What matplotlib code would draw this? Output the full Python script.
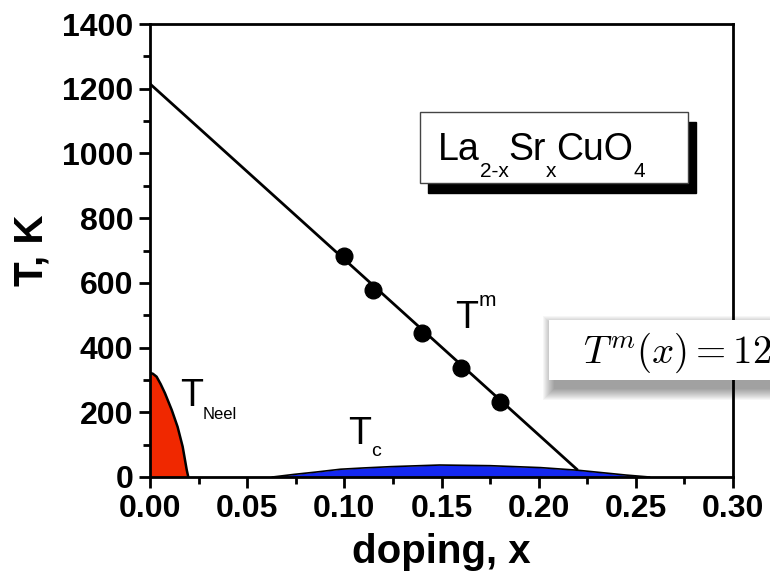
import numpy as np
import matplotlib.pyplot as plt
from matplotlib.patches import Rectangle
from matplotlib.ticker import MultipleLocator

plt.rcParams['font.family'] = ['Liberation Sans', 'DejaVu Sans']

# data
tm_x = [0.10, 0.115, 0.14, 0.16, 0.18]
tm_T = [682, 578, 445, 336, 232]
tm_fit_x = [0.0, 0.2196]
tm_fit_T = [1215, 24]

neel_x = [0.0, 0.0015, 0.0034, 0.0055, 0.0077, 0.0112, 0.0142, 0.0168, 0.0189, 0.0197]
neel_T = [322, 319, 310, 287, 259, 207, 155, 94, 22, 0]

tc_x = [0.063, 0.074, 0.085, 0.098, 0.11, 0.124, 0.149, 0.175, 0.201, 0.22, 0.235, 0.245, 0.257]
tc_T = [0, 8, 15, 24, 28, 32, 37, 35, 29, 21, 12, 6, 0]

W, H = 770, 575
fig = plt.figure(figsize=(7.7, 5.75), dpi=100)
ax = fig.add_axes([150 / W, 1 - 477 / H, 583 / W, 453 / H])

# areas
ax.fill_between(neel_x, 0, neel_T, color='#f02800', lw=0)
ax.plot(neel_x, neel_T, color='black', lw=1.8)
ax.fill_between(tc_x, 0, tc_T, color='#1428f0', lw=0)
ax.plot(tc_x, tc_T, color='black', lw=1.2)

# T^m line and points
ax.plot(tm_fit_x, tm_fit_T, color='black', lw=2)
ax.plot(tm_x, tm_T, 'o', color='black', ms=12)

ax.set_xlim(0, 0.30)
ax.set_ylim(0, 1400)
ax.xaxis.set_major_locator(MultipleLocator(0.05))
ax.xaxis.set_minor_locator(MultipleLocator(0.025))
ax.yaxis.set_major_locator(MultipleLocator(200))
ax.yaxis.set_minor_locator(MultipleLocator(100))
ax.xaxis.set_major_formatter(plt.FuncFormatter(lambda v, p: f'{v:.2f}'))
ax.tick_params(which='both', direction='out', width=2, top=False, right=False)
ax.tick_params(which='major', length=8, labelsize=23, pad=4)
ax.tick_params(which='minor', length=5)
for lab in ax.get_xticklabels() + ax.get_yticklabels():
    lab.set_fontweight('bold')
for sp in ax.spines.values():
    sp.set_linewidth(2)

ax.set_xlabel('doping, x', fontsize=29, fontweight='bold', labelpad=7)
ax.set_ylabel('T, K', fontsize=29, fontweight='bold', labelpad=8)

renderer = fig.canvas.get_renderer()


def chain(x, y, pieces, coords='data'):
    # place text pieces one after another: (text, size, dy in points)
    xoff = 0
    for s, size, dy in pieces:
        t = ax.annotate(s, xy=(x, y), xycoords=coords, xytext=(xoff, dy),
                        textcoords='offset points', fontsize=size,
                        ha='left', va='baseline', zorder=6)
        bb = t.get_window_extent(renderer)
        xoff += bb.width * 72 / fig.dpi


chain(0.0154, 219, [('T', 27, 0), ('Neel', 12, -9)])
chain(0.1019, 102, [('T', 27, 0), ('c', 14, -9)])
chain(0.157, 460, [('T', 27, 0), ('m', 15, 16)])


def axfrac(px, py):
    return (px - 150) / 583, (477 - py) / 453


# compound label with shadowed box
sx, sy = axfrac(428, 193)
ax.add_patch(Rectangle((sx, sy), 268 / 583, 71 / 453, transform=ax.transAxes,
                       color='black', zorder=5))
bx, by = axfrac(420, 183)
ax.add_patch(Rectangle((bx, by), 268 / 583, 71 / 453, transform=ax.transAxes,
                       facecolor='white', edgecolor='#444444', lw=1, zorder=5.5))
tx, ty = axfrac(438, 160)
chain(tx, ty, [('La', 27, 0), ('2-x', 15, -12), ('Sr', 27, 0), ('x', 15, -12),
               ('CuO', 27, 0), ('4', 15, -12)], coords='axes fraction')

# overlay formula box with soft shadow (figure pixels)
for r in range(12, 0, -1):
    fig.add_artist(Rectangle(((549 + 6 - r) / W, 1 - (380 + 8 + r) / H),
                             (240 + 2 * r) / W, (60 + 2 * r) / H,
                             transform=fig.transFigure, color='black',
                             alpha=0.035, lw=0, zorder=10))
fig.add_artist(Rectangle((549 / W, 1 - 380 / H), 240 / W, 60 / H,
                         transform=fig.transFigure, facecolor='white',
                         lw=0, zorder=11))
fig.text(583 / W, 1 - 363 / H, r'$T^m(x) = 1215 - 5400\,x$', fontsize=28,
         math_fontfamily='cm', ha='left', va='baseline', zorder=12)

fig.savefig('out.png', dpi=100)
